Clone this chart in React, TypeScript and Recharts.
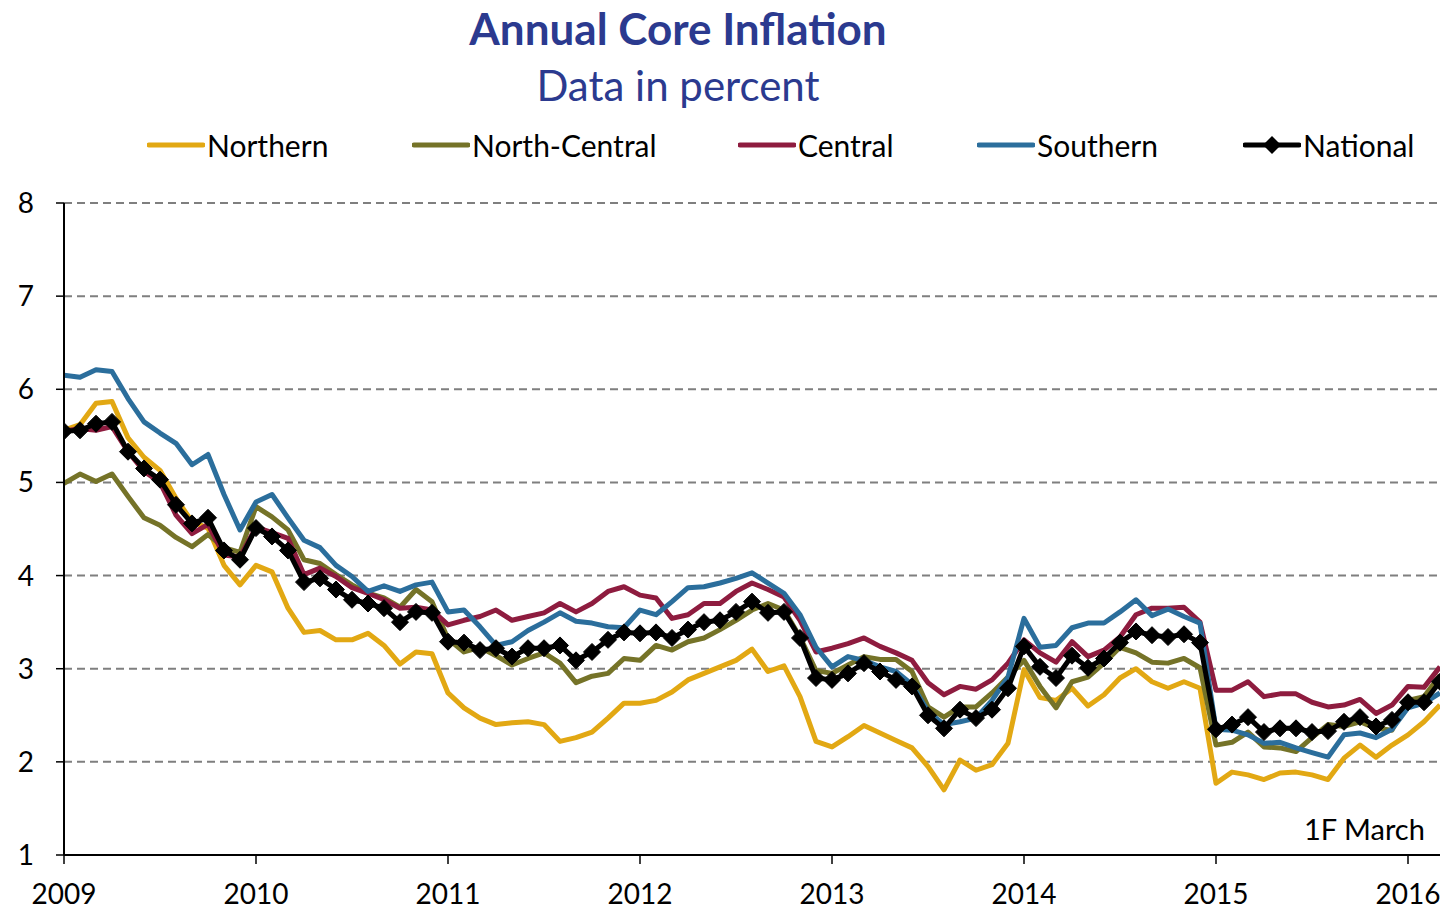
import React from 'react';
import { LineChart, Line, XAxis, YAxis, CartesianGrid } from 'recharts';

const yearLabels = ['2009', '2010', '2011', '2012', '2013', '2014', '2015', '2016'];
const yTicks = [1, 2, 3, 4, 5, 6, 7, 8];

const northern = [5.56, 5.62, 5.85, 5.87, 5.48, 5.27, 5.13, 4.83, 4.58, 4.51, 4.11, 3.90, 4.11, 4.04, 3.65, 3.39, 3.41, 3.31, 3.31, 3.38, 3.25, 3.05, 3.18, 3.16, 2.74, 2.58, 2.47, 2.40, 2.42, 2.43, 2.40, 2.22, 2.26, 2.32, 2.47, 2.63, 2.63, 2.66, 2.75, 2.88, 2.95, 3.02, 3.09, 3.21, 2.97, 3.03, 2.70, 2.22, 2.16, 2.27, 2.39, 2.31, 2.23, 2.15, 1.95, 1.70, 2.02, 1.91, 1.97, 2.20, 2.99, 2.69, 2.66, 2.79, 2.60, 2.72, 2.90, 3.00, 2.86, 2.79, 2.86, 2.79, 1.77, 1.89, 1.86, 1.81, 1.88, 1.89, 1.86, 1.81, 2.04, 2.18, 2.05, 2.18, 2.29, 2.43, 2.61];
const northCentral = [4.99, 5.09, 5.01, 5.09, 4.85, 4.62, 4.54, 4.41, 4.31, 4.44, 4.30, 4.25, 4.74, 4.63, 4.49, 4.17, 4.13, 4.01, 3.90, 3.81, 3.76, 3.66, 3.85, 3.72, 3.32, 3.18, 3.23, 3.14, 3.04, 3.11, 3.17, 3.06, 2.85, 2.92, 2.95, 3.11, 3.09, 3.25, 3.20, 3.29, 3.33, 3.42, 3.52, 3.63, 3.70, 3.63, 3.34, 2.98, 2.95, 3.04, 3.13, 3.10, 3.10, 2.97, 2.59, 2.48, 2.59, 2.59, 2.74, 2.91, 3.09, 2.81, 2.58, 2.86, 2.91, 3.06, 3.23, 3.17, 3.07, 3.06, 3.11, 3.01, 2.18, 2.21, 2.32, 2.16, 2.15, 2.11, 2.26, 2.40, 2.38, 2.43, 2.36, 2.34, 2.66, 2.70, 2.93];
const central = [5.55, 5.58, 5.56, 5.60, 5.33, 5.12, 5.00, 4.65, 4.45, 4.55, 4.22, 4.20, 4.52, 4.46, 4.40, 4.01, 4.08, 3.99, 3.87, 3.81, 3.74, 3.65, 3.66, 3.63, 3.47, 3.52, 3.56, 3.63, 3.52, 3.56, 3.60, 3.70, 3.61, 3.70, 3.83, 3.88, 3.79, 3.76, 3.54, 3.58, 3.70, 3.70, 3.83, 3.92, 3.85, 3.77, 3.52, 3.18, 3.22, 3.27, 3.33, 3.24, 3.17, 3.09, 2.85, 2.72, 2.81, 2.78, 2.88, 3.06, 3.31, 3.17, 3.07, 3.29, 3.13, 3.20, 3.34, 3.58, 3.65, 3.65, 3.66, 3.50, 2.77, 2.77, 2.86, 2.70, 2.73, 2.73, 2.64, 2.59, 2.61, 2.67, 2.52, 2.61, 2.81, 2.80, 3.02];
const southern = [6.15, 6.13, 6.21, 6.19, 5.90, 5.65, 5.53, 5.42, 5.19, 5.30, 4.87, 4.49, 4.79, 4.87, 4.62, 4.38, 4.30, 4.11, 3.99, 3.83, 3.89, 3.83, 3.90, 3.93, 3.61, 3.63, 3.45, 3.25, 3.29, 3.41, 3.50, 3.60, 3.51, 3.49, 3.45, 3.44, 3.63, 3.58, 3.72, 3.87, 3.88, 3.92, 3.97, 4.03, 3.92, 3.81, 3.58, 3.23, 3.02, 3.13, 3.09, 3.02, 2.97, 2.83, 2.54, 2.40, 2.43, 2.47, 2.66, 2.91, 3.54, 3.23, 3.25, 3.44, 3.49, 3.49, 3.61, 3.74, 3.57, 3.64, 3.56, 3.49, 2.35, 2.34, 2.29, 2.20, 2.21, 2.15, 2.10, 2.05, 2.29, 2.31, 2.26, 2.35, 2.58, 2.63, 2.74];
const national = [5.55, 5.56, 5.63, 5.65, 5.33, 5.15, 5.03, 4.76, 4.56, 4.62, 4.27, 4.17, 4.51, 4.42, 4.27, 3.93, 3.97, 3.85, 3.74, 3.70, 3.65, 3.50, 3.61, 3.60, 3.29, 3.28, 3.20, 3.22, 3.13, 3.22, 3.22, 3.25, 3.09, 3.18, 3.31, 3.39, 3.38, 3.39, 3.33, 3.42, 3.50, 3.52, 3.61, 3.72, 3.60, 3.61, 3.33, 2.90, 2.88, 2.95, 3.06, 2.97, 2.88, 2.81, 2.50, 2.36, 2.56, 2.47, 2.56, 2.79, 3.24, 3.02, 2.90, 3.14, 3.01, 3.11, 3.28, 3.40, 3.36, 3.34, 3.37, 3.28, 2.35, 2.40, 2.48, 2.32, 2.36, 2.36, 2.32, 2.33, 2.43, 2.48, 2.38, 2.45, 2.64, 2.64, 2.86];

const seriesInfo = [
  { key: 'northern', name: 'Northern', color: '#E2A813' },
  { key: 'northCentral', name: 'North-Central', color: '#757328' },
  { key: 'central', name: 'Central', color: '#8E1C3F' },
  { key: 'southern', name: 'Southern', color: '#2B6E9C' },
  { key: 'national', name: 'National', color: '#000000' },
];

const data = national.map((_, i) => ({
  i,
  northern: northern[i],
  northCentral: northCentral[i],
  central: central[i],
  southern: southern[i],
  national: national[i],
}));

const FONT = 'Lato, "Open Sans", sans-serif';
const TITLE_COLOR = '#2B3A8F';

const Diamond = (props: any) => {
  const { cx, cy } = props;
  if (cx == null || cy == null) return null;
  const r = 8.5;
  return (
    <polygon
      key={`d-${props.index}`}
      points={`${cx},${cy - r} ${cx + r},${cy} ${cx},${cy + r} ${cx - r},${cy}`}
      fill="#000"
      stroke="#000"
      strokeWidth={1}
    />
  );
};

const legendPositions = [147, 412, 738, 977, 1243];

export default function App() {
  return (
    <div style={{ position: 'absolute', left: 0, top: 0, width: 1448, height: 912, background: '#fff', fontFamily: FONT, overflow: 'hidden' }}>
      <div style={{ position: 'absolute', left: 0, top: 2, width: 1356, textAlign: 'center', fontSize: 44, fontWeight: 700, color: TITLE_COLOR, lineHeight: '52px' }}>
        Annual Core Inflation
      </div>
      <div style={{ position: 'absolute', left: 0, top: 59, width: 1356, textAlign: 'center', fontSize: 42, color: TITLE_COLOR, lineHeight: '52px' }}>
        Data in percent
      </div>
      {seriesInfo.map((s, k) => (
        <div key={s.key} style={{ position: 'absolute', left: legendPositions[k], top: 127, height: 36, display: 'flex', alignItems: 'center', fontSize: 30, color: '#000' }}>
          <svg width={58} height={20} style={{ marginRight: 2 }}>
            <line x1={2} y1={10} x2={56} y2={10} stroke={s.color} strokeWidth={5} strokeLinecap="round" />
            {s.key === 'national' ? <polygon points="29,1 38,10 29,19 20,10" fill="#000" /> : null}
          </svg>
          <span>{s.name}</span>
        </div>
      ))}
      <LineChart
        width={1448}
        height={912}
        data={data}
        margin={{ top: 203, right: 8, left: 0, bottom: 0 }}
        style={{ position: 'absolute', left: 0, top: 0 }}
      >
        <CartesianGrid horizontal={true} vertical={false} stroke="#7f7f7f" strokeDasharray="8 5" strokeWidth={2} />
        <XAxis
          type="number"
          dataKey="i"
          domain={[0, 86]}
          ticks={[0, 12, 24, 36, 48, 60, 72, 84]}
          tickFormatter={(v: number) => yearLabels[v / 12]}
          height={57}
          tickSize={9}
          tickMargin={20}
          axisLine={{ stroke: '#000', strokeWidth: 2 }}
          tickLine={{ stroke: '#000', strokeWidth: 1.5 }}
          tick={{ fill: '#000', fontSize: 28, fontFamily: FONT }}
          interval={0}
          allowDataOverflow
        />
        <YAxis
          type="number"
          domain={[1, 8]}
          ticks={yTicks}
          width={64}
          tickSize={8}
          tickMargin={22}
          axisLine={{ stroke: '#000', strokeWidth: 2 }}
          tickLine={{ stroke: '#000', strokeWidth: 1.5 }}
          tick={{ fill: '#000', fontSize: 28, fontFamily: FONT }}
          interval={0}
        />
        <Line dataKey="northern" stroke="#E2A813" strokeWidth={5} dot={false} isAnimationActive={false} strokeLinejoin="round" />
        <Line dataKey="northCentral" stroke="#757328" strokeWidth={5} dot={false} isAnimationActive={false} strokeLinejoin="round" />
        <Line dataKey="central" stroke="#8E1C3F" strokeWidth={5} dot={false} isAnimationActive={false} strokeLinejoin="round" />
        <Line dataKey="southern" stroke="#2B6E9C" strokeWidth={5} dot={false} isAnimationActive={false} strokeLinejoin="round" />
        <Line dataKey="national" stroke="#000" strokeWidth={5} dot={<Diamond />} isAnimationActive={false} strokeLinejoin="round" />
      </LineChart>
      <div style={{ position: 'absolute', left: 1304, top: 811, fontSize: 29, color: '#000', lineHeight: '36px' }}>1F March</div>
    </div>
  );
}
